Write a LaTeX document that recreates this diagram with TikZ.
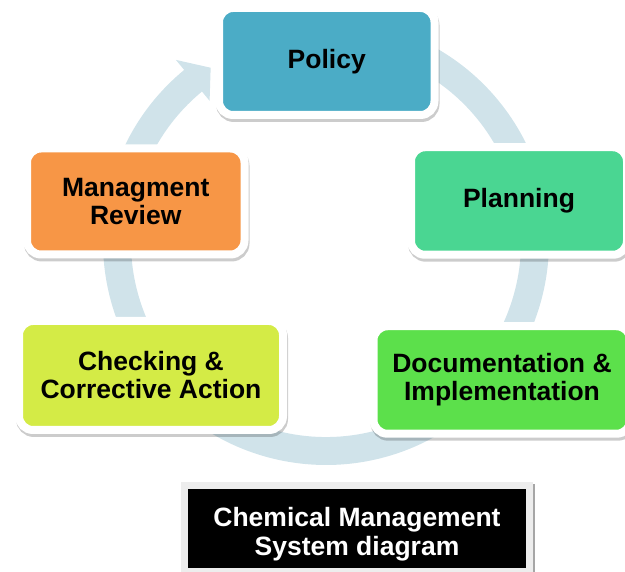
\documentclass[tikz,border=0pt]{standalone}
\usepackage{fontspec}
\setmainfont{Liberation Sans}
\definecolor{ringblue}{RGB}{208,227,234}
\definecolor{policyblue}{RGB}{75,172,198}
\definecolor{planninggreen}{RGB}{74,214,146}
\definecolor{docgreen}{RGB}{92,224,75}
\definecolor{checkyellow}{RGB}{212,235,70}
\definecolor{reviewor}{RGB}{247,150,70}
\begin{document}
\begin{tikzpicture}[x=1pt,y=-1pt,
  stage/.style={draw=white, line width=8pt, rounded corners=14pt, align=center,
    font=\fontsize{26.5}{28}\selectfont\bfseries,
    preaction={draw=black, opacity=.2, line width=8pt,
      transform canvas={xshift=1pt,yshift=-3pt}}},
  captionbox/.style={fill=black, draw=black!7, line width=7pt,
    preaction={draw=black!35, line width=3pt, transform canvas={xshift=4pt}}},
  captiontext/.style={text=white, align=center, font=\fontsize{26.5}{29}\selectfont\bfseries}]
\useasboundingbox (0,0) rectangle (625,572);
\clip (0,0) rectangle (625,572);

% cycle arrow
\fill[ringblue, shift={(326,242)}] (-129.5:223)
  arc[start angle=-129.5, end angle=-430, radius=223] -- (-430:195)
  arc[start angle=-430, end angle=-129.5, radius=195] -- (-129.5:183)
  -- (-123.5:209) -- (-129.5:236) -- cycle;

%-------------------------------------
\node[stage, fill=policyblue, minimum width=215.5pt, minimum height=107pt] (policy) at (326.75,61.5) {Policy};
\node[stage, fill=planninggreen, minimum width=216pt, minimum height=107.5pt] (planning) at (519,201) {Planning};
\node[stage, fill=docgreen, minimum width=257pt, minimum height=107.5pt] (docimpl) at (502,380) {Documentation \&\\Implementation};
\node[stage, fill=checkyellow, minimum width=264pt, minimum height=109pt] (checking) at (151,375.5) {Checking \&\\Corrective Action};
\node[stage, fill=reviewor, minimum width=217.5pt, minimum height=106pt] (review) at (135.75,201.5) {Managment\\Review};

%-------------------------------------
\draw[captionbox] (184.5,485.5) rectangle (529.5,572);
\node[captiontext] (title) at (357,534) {Chemical Management\\System diagram};

\end{tikzpicture}
\end{document}
